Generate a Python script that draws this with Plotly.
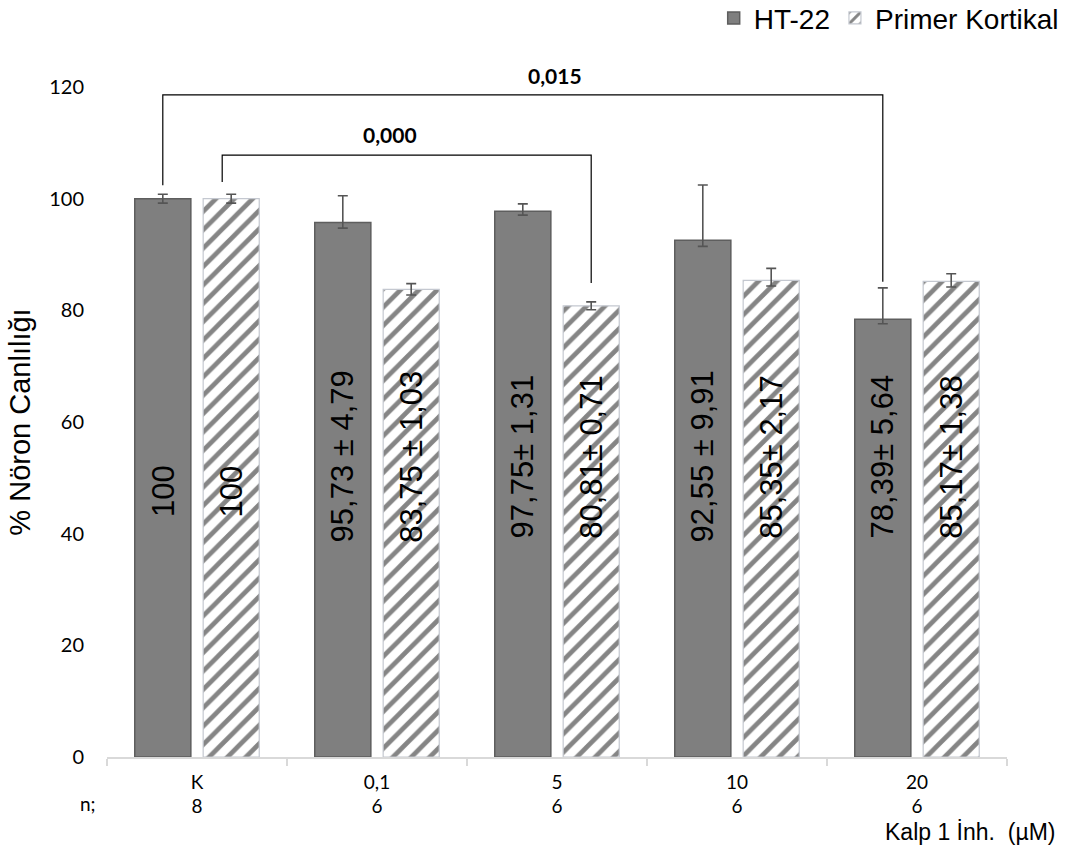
import plotly.graph_objects as go

categories = ["K", "0,1", "5", "10", "20"]
n_values = ["8", "6", "6", "6", "6"]
ht22 = [100, 95.73, 97.75, 92.55, 78.39]
ht22_err_plus = [0.8, 4.79, 1.31, 9.91, 5.64]
ht22_err_minus = [0.8, 1.0, 0.7, 1.1, 0.8]
primer = [100, 83.75, 80.81, 85.35, 85.17]
primer_err_plus = [0.8, 1.03, 0.71, 2.17, 1.38]
primer_err_minus = [0.8, 1.0, 0.7, 1.0, 1.0]
ht22_labels = ["100", "95,73 ± 4,79", "97,75± 1,31", "92,55 ± 9,91", "78,39± 5,64"]
primer_labels = ["100", "83,75 ± 1,03", "80,81± 0,71", "85,35± 2,17", "85,17± 1,38"]
y_ticks = [0, 20, 40, 60, 80, 100, 120]

x = list(range(len(categories)))
OFF = 0.19

fig = go.Figure()
fig.add_trace(go.Bar(
    x=x, y=ht22, name="HT-22",
    marker=dict(color="#7f7f7f", line=dict(color="#5e5e5e", width=1.5)),
    error_y=dict(type="data", array=ht22_err_plus, arrayminus=ht22_err_minus,
                 color="#555555", thickness=1.6, width=5),
))
fig.add_trace(go.Bar(
    x=x, y=primer, name="Primer Kortikal",
    marker=dict(color="white", line=dict(color="#c4c8d0", width=1.2),
                pattern=dict(shape="/", fgcolor="#858585", bgcolor="white",
                             fgopacity=1, size=13, solidity=0.36)),
    error_y=dict(type="data", array=primer_err_plus, arrayminus=primer_err_minus,
                 color="#555555", thickness=1.6, width=5),
))

annotations = []
for i in range(len(categories)):
    for lab, off in ((ht22_labels[i], -OFF), (primer_labels[i], OFF)):
        yc = 47.6 if len(lab) <= 3 else 53.8
        annotations.append(dict(
            x=i + off, y=yc, xref="x", yref="y", text=lab, showarrow=False,
            textangle=-90, xanchor="center", yanchor="middle",
            font=dict(family="Liberation Sans, Arial", size=31, color="#000000")))

# significance brackets
shapes = []
line = dict(color="#000000", width=1.2)
shapes.append(dict(type="path", xref="x", yref="y",
                   path=f"M {0-OFF},102.4 L {0-OFF},118.6 L {4-OFF},118.6 L {4-OFF},85.1",
                   line=line))
shapes.append(dict(type="path", xref="x", yref="y",
                   path=f"M {0+0.14},103.0 L {0+0.14},107.8 L {2+OFF},107.8 L {2+OFF},84.9",
                   line=line))
annotations.append(dict(x=1.99, y=118.6, xref="x", yref="y", text="<b>0,015</b>",
                        showarrow=False, yanchor="bottom", yshift=5,
                        font=dict(family="Lato", size=21, color="#000")))
annotations.append(dict(x=1.07, y=107.8, xref="x", yref="y", text="<b>0,000</b>",
                        showarrow=False, yanchor="bottom", yshift=6,
                        font=dict(family="Lato", size=21, color="#000")))

annotations.append(dict(x=-0.01, y=0, xref="paper", yref="paper", text="n;", showarrow=False,
                        xanchor="right", yanchor="top", yshift=-33,
                        font=dict(family="Lato", size=19, color="#000")))
annotations.append(dict(x=1.0, y=0, xref="paper", yref="paper", text="Kalp 1 İnh.  (µM)",
                        showarrow=False, xanchor="right", yanchor="top", yshift=-60, xshift=50,
                        font=dict(family="Liberation Sans, Arial", size=23, color="#000")))

fig.update_layout(
    width=1070, height=848,
    margin=dict(l=107, r=63, t=87, b=91, autoexpand=False),
    paper_bgcolor="white", plot_bgcolor="white",
    barmode="group", bargap=0.24, bargroupgap=0.18,
    showlegend=True,
    legend=dict(orientation="h", x=1.063, xanchor="right", y=1.14, yanchor="top",
                font=dict(family="Liberation Sans, Arial", size=28, color="#000"),
                itemwidth=30, bgcolor="rgba(0,0,0,0)", tracegroupgap=0),
    annotations=annotations, shapes=shapes,
    font=dict(family="Lato", color="#000"),
)
fig.update_xaxes(
    range=[-0.5, 4.5], tickvals=x,
    ticktext=[f"{c}<br>{n}" for c, n in zip(categories, n_values)],
    tickfont=dict(family="Lato", size=19, color="#000"),
    showline=True, linecolor="#d9d9d9", linewidth=1.5, ticks="",
    showgrid=False, zeroline=False,
    minor=dict(tickvals=[-0.5, 0.5, 1.5, 2.5, 3.5, 4.5], ticks="outside",
               ticklen=7, tickcolor="#d9d9d9", tickwidth=1.5),
    ticklabelstandoff=7,
)
fig.update_yaxes(
    range=[0, 120], tickvals=y_ticks, showgrid=False, zeroline=False,
    showline=False, ticks="", tickfont=dict(family="Lato", size=20, color="#000"),
    ticklabelstandoff=22,
    title=dict(text="% Nöron Canlılığı", standoff=10,
               font=dict(family="Liberation Sans, Arial", size=29, color="#000")),
)

fig.write_html("out.html")
